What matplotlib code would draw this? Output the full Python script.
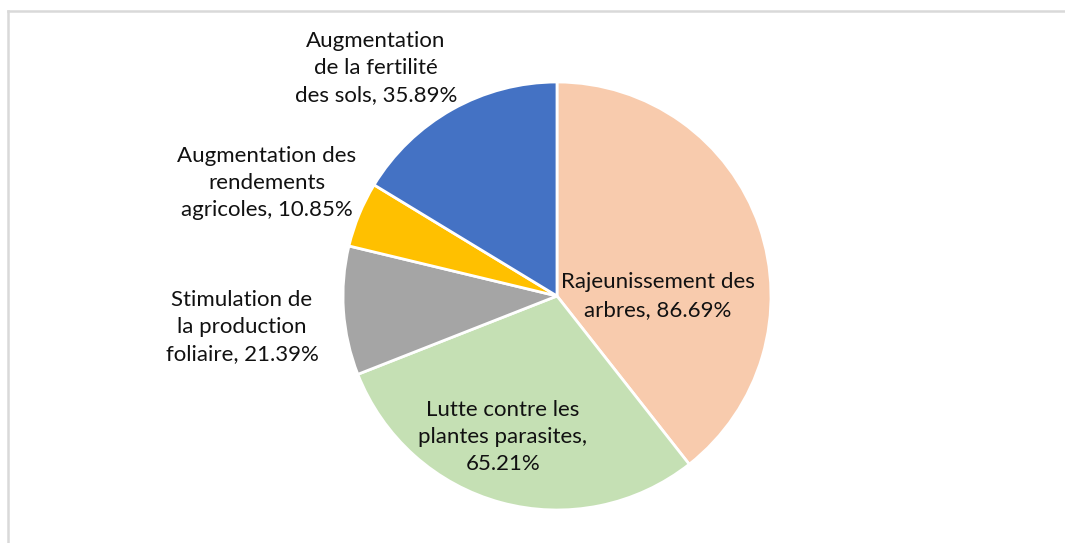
import matplotlib.pyplot as plt
from matplotlib.lines import Line2D

labels = ["Rajeunissement des\narbres",
          "Lutte contre les\nplantes parasites,\n",
          "Stimulation de\nla production\nfoliaire",
          "Augmentation des\nrendements\nagricoles",
          "Augmentation\nde la fertilité\ndes sols"]
values = [86.69, 65.21, 21.39, 10.85, 35.89]
colors = ["#F8CBAD", "#C5E0B4", "#A5A5A5", "#FFC000", "#4472C4"]

# label centres in pixels (layout)
label_pos = [(658, 296), (503, 437), (242, 327), (267, 183), (376, 68)]

W, H = 1065, 543
cx, cy, r = 557, 296, 214

plt.rcParams['font.family'] = ['Lato', 'DejaVu Sans']

fig = plt.figure(figsize=(W / 100, H / 100), dpi=100)
ax = fig.add_axes([0, 0, 1, 1])
ax.pie(values, colors=colors, startangle=90, counterclock=False,
       radius=1, center=(0, 0),
       wedgeprops=dict(edgecolor="white", linewidth=2))
ax.set_xlim(-cx / r, (W - cx) / r)
ax.set_ylim((cy - H) / r, cy / r)
ax.set_aspect('equal')
ax.axis('off')

for lab, v, (px, py) in zip(labels, values, label_pos):
    if lab.endswith("\n"):
        txt = lab + "%.2f%%" % v
    else:
        txt = lab + ", %.2f%%" % v
    ax.text((px - cx) / r, (cy - py) / r, txt, ha='center', va='center',
            fontsize=16, color="#111111", linespacing=1.45)

# chart area border (left and top visible)
fig.add_artist(Line2D([7.5 / W, 7.5 / W], [0, 1 - 11 / H], color="#d9d9d9", lw=1.8,
                      transform=fig.transFigure))
fig.add_artist(Line2D([7.5 / W, 1], [1 - 11 / H, 1 - 11 / H], color="#d9d9d9", lw=1.8,
                      transform=fig.transFigure))

fig.savefig("out.png", dpi=100)
